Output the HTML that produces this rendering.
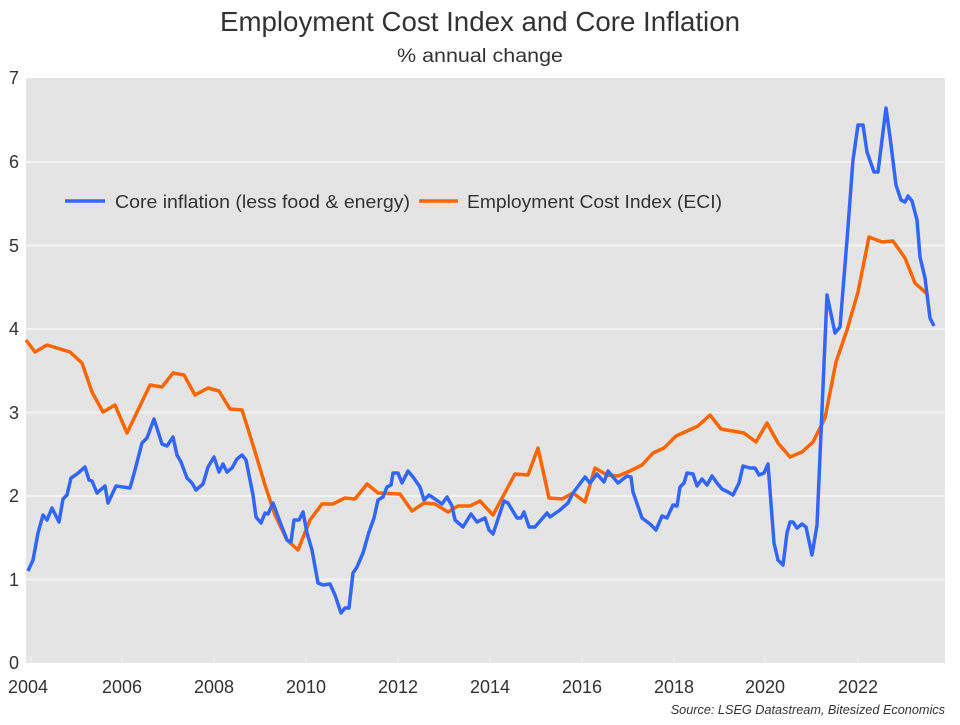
<!DOCTYPE html>
<html><head><meta charset="utf-8"><style>
body{margin:0;background:#fff;font-family:"Liberation Sans",sans-serif}
</style></head><body>
<svg width="960" height="720" xmlns="http://www.w3.org/2000/svg" font-family="Liberation Sans, sans-serif">
<text x="480" y="31" font-size="27.5" text-anchor="middle" fill="#333" textLength="520" lengthAdjust="spacingAndGlyphs">Employment Cost Index and Core Inflation</text>
<text x="480" y="62" font-size="19" text-anchor="middle" fill="#333" textLength="166" lengthAdjust="spacingAndGlyphs">% annual change</text>
<rect x="26" y="78" width="919" height="585" fill="#e4e4e4"/>
<g stroke="#f4f4f4" stroke-width="2">
<line x1="26" x2="945" y1="579.5" y2="579.5"/><line x1="26" x2="945" y1="496" y2="496"/>
<line x1="26" x2="945" y1="412.5" y2="412.5"/><line x1="26" x2="945" y1="329" y2="329"/>
<line x1="26" x2="945" y1="245.5" y2="245.5"/><line x1="26" x2="945" y1="162" y2="162"/>
</g>
<g stroke="#f4f4f4" stroke-width="1">
<line x1="31" x2="31" y1="656" y2="663"/><line x1="122" x2="122" y1="656" y2="663"/><line x1="214" x2="214" y1="656" y2="663"/><line x1="306" x2="306" y1="656" y2="663"/><line x1="398" x2="398" y1="656" y2="663"/><line x1="490" x2="490" y1="656" y2="663"/><line x1="582" x2="582" y1="656" y2="663"/><line x1="674" x2="674" y1="656" y2="663"/><line x1="765" x2="765" y1="656" y2="663"/><line x1="858" x2="858" y1="656" y2="663"/>
</g>
<g font-size="18" fill="#333" text-anchor="middle">
<text x="14" y="84">7</text><text x="14" y="168">6</text><text x="14" y="252">5</text><text x="14" y="335">4</text><text x="14" y="419">3</text><text x="14" y="502">2</text><text x="14" y="586">1</text><text x="14" y="669">0</text>
<text x="28" y="693">2004</text><text x="122" y="693">2006</text><text x="214" y="693">2008</text><text x="306" y="693">2010</text><text x="398" y="693">2012</text><text x="490" y="693">2014</text><text x="582" y="693">2016</text><text x="674" y="693">2018</text><text x="765" y="693">2020</text><text x="858" y="693">2022</text>
</g>
<text x="945" y="714" font-size="12.7" font-style="italic" text-anchor="end" fill="#333">Source: LSEG Datastream, Bitesized Economics</text>
<polyline fill="none" stroke="#ff6600" stroke-width="3.5" stroke-linejoin="round" points="26,340 35,352 47,345 70,352 82,363 92,392 103,412 115,405 127,433 138,410 150,385 162,387 173,373 184,375 195,395 208,388 219,391 230,409 242,410 253,445 265,485 275,515 287,540 298,550 310,520 322,504 333,504 345,498 355,499 367,484 378,493 400,494 412,511 424,503 435,504 448,512 458,506 470,506 480,501 493,515 515,474 528,475 538,448 549,498 562,499 573,493 585,502 595,468 607,475 618,476 630,471 642,465 653,453 664,448 676,436 687,431 698,426 710,415 721,429 744,433 756,442 767,423 778,443 790,457 802,452 813,442 825,418 836,362 847,330 858,292 869,237 882,242 893,241 905,258 915,283 926,293"/>
<polyline fill="none" stroke="#3366ff" stroke-width="3.5" stroke-linejoin="round" points="28,571 33,560 38,533 43,515 47,520 52,508 59,522 63,499 67,495 71,478 77,474 85,467 89,480 92,481 97,493 105,486 108,503 116,486 130,488 135,470 142,443 147,438 154,419 162,444 167,446 173,437 177,455 181,462 187,478 192,483 196,490 203,484 208,467 214,457 219,472 223,464 227,472 232,468 237,459 242,455 246,460 253,495 256,517 261,523 265,513 268,514 273,503 280,522 287,540 291,542 294,520 299,520 303,512 307,533 312,550 318,583 323,585 330,584 335,595 341,613 345,608 349,608 353,573 357,567 363,553 369,532 374,518 378,500 383,497 387,487 391,485 393,473 398,473 402,483 408,471 413,477 420,487 424,500 429,495 435,499 442,504 447,497 452,506 455,520 463,527 471,514 477,522 485,518 489,530 493,534 504,501 508,503 517,518 521,518 524,512 529,527 535,527 547,513 550,517 560,510 568,503 573,493 585,477 590,483 597,474 604,482 608,471 618,483 627,476 631,477 633,492 642,518 650,524 656,530 662,516 667,518 673,505 677,506 680,487 684,483 687,473 693,474 697,486 702,479 707,485 712,476 717,483 722,489 728,492 733,495 739,483 743,466 750,468 755,468 759,475 764,473 768,464 774,543 778,560 783,565 787,533 790,522 793,522 797,528 802,524 806,527 812,555 817,525 827,295 835,333 840,327 847,240 853,160 858,125 863,125 867,152 874,172 878,172 886,108 890,137 896,185 901,200 905,202 908,196 912,201 917,220 920,257 925,278 930,318 934,326"/>
<line x1="65" x2="105" y1="201" y2="201" stroke="#3366ff" stroke-width="3.5"/>
<text x="115" y="208" font-size="18.5" fill="#333" textLength="295" lengthAdjust="spacingAndGlyphs">Core inflation (less food &amp; energy)</text>
<line x1="419" x2="458" y1="201" y2="201" stroke="#ff6600" stroke-width="3.5"/>
<text x="467" y="208" font-size="18.5" fill="#333" textLength="255" lengthAdjust="spacingAndGlyphs">Employment Cost Index (ECI)</text>
</svg>
</body></html>
